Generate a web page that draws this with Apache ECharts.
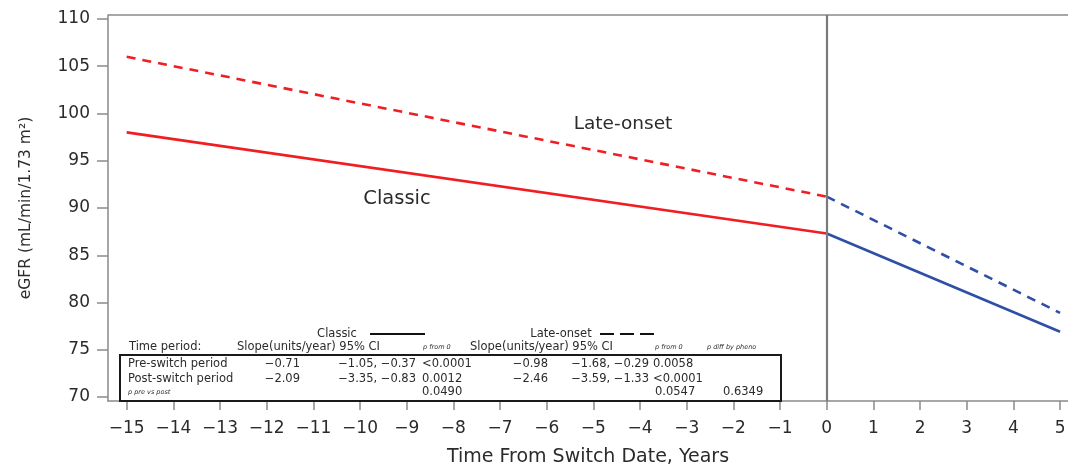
<!DOCTYPE html>
<html>
<head>
<meta charset="utf-8">
<title>eGFR slope before and after switch</title>
<script src="https://cdn.jsdelivr.net/npm/echarts@6/dist/echarts.min.js"></script>
<style>
  html, body { margin: 0; padding: 0; background: #fff; }
  #chart { width: 1068px; height: 465px; }
</style>
</head>
<body>
<div id="chart"></div>
<script>
(function () {
  'use strict';

  // ---- data ----
  var xTicks = [-15, -14, -13, -12, -11, -10, -9, -8, -7, -6, -5, -4, -3, -2, -1, 0, 1, 2, 3, 4, 5];
  var yTicks = [70, 75, 80, 85, 90, 95, 100, 105, 110];

  // fitted lines [years, eGFR]
  var classicPre  = [[-15, 98.0], [0, 87.3]];
  var classicPost = [[0, 87.3], [5, 76.9]];
  var latePre     = [[-15, 106.0], [0, 91.2]];
  var latePost    = [[0, 91.2], [5, 78.9]];

  // slope table
  var rowNames     = ['Pre-switch period', 'Post-switch period'];
  var classicSlope = ['\u22120.71', '\u22122.09'];
  var classicCI    = ['\u22121.05, \u22120.37', '\u22123.35, \u22120.83'];
  var classicP     = ['<0.0001', '0.0012'];
  var lateSlope    = ['\u22120.98', '\u22122.46'];
  var lateCI       = ['\u22121.68, \u22120.29', '\u22123.59, \u22121.33'];
  var lateP        = ['0.0058', '<0.0001'];
  var pPrePost     = ['0.0490', '0.0547'];
  var pPheno       = '0.6349';

  // ---- style ----
  var FONT = '"DejaVu Sans", Verdana, sans-serif';
  var RED = '#f01e23';
  var BLUE = '#2f4fa6';
  var AXIS = '#8a8a8a';
  var TXT = '#2b2b2b';
  var TS = 11.5; // table font size

  function line(name, data, color, dashed) {
    return {
      name: name, type: 'line', data: data,
      symbol: 'none', silent: true, z: 3,
      lineStyle: { color: color, width: 2.6, type: dashed ? [9, 7] : 'solid' }
    };
  }

  function txt(text, x, y, size, align, italic) {
    return {
      type: 'text', silent: true, z: 10,
      style: {
        text: text, x: x, y: y, fill: TXT,
        font: (italic ? 'italic ' : '') + size + 'px ' + FONT,
        textAlign: align || 'left', textVerticalAlign: 'middle'
      }
    };
  }

  // ---- slope table (pixel layout) ----
  var g = [];
  g.push(txt('Classic', 337, 334, TS, 'center'));
  g.push({ type: 'line', silent: true, z: 10, shape: { x1: 370, y1: 334, x2: 425, y2: 334 }, style: { stroke: '#111', lineWidth: 2 } });
  g.push(txt('Late-onset', 561, 334, TS, 'center'));
  g.push({ type: 'line', silent: true, z: 10, shape: { x1: 600, y1: 334, x2: 656, y2: 334 }, style: { stroke: '#111', lineWidth: 2, lineDash: [14, 6] } });

  g.push(txt('Time period:', 129, 347, TS, 'left'));
  g.push(txt('Slope(units/year) 95% CI', 237, 347, TS, 'left'));
  g.push(txt('p from 0', 423, 347, 6.5, 'left', true));
  g.push(txt('Slope(units/year) 95% CI', 470, 347, TS, 'left'));
  g.push(txt('p from 0', 655, 347, 6.5, 'left', true));
  g.push(txt('p diff by pheno', 707, 347, 6.5, 'left', true));

  g.push({
    type: 'rect', silent: true, z: 9,
    shape: { x: 120, y: 355, width: 661, height: 46 },
    style: { fill: '#fff', stroke: '#1a1a1a', lineWidth: 2 }
  });

  var rowY = [364, 379];
  for (var i = 0; i < rowNames.length; i++) {
    g.push(txt(rowNames[i], 128, rowY[i], TS, 'left'));
    g.push(txt(classicSlope[i], 300, rowY[i], TS, 'right'));
    g.push(txt(classicCI[i], 416, rowY[i], TS, 'right'));
    g.push(txt(classicP[i], 422, rowY[i], TS, 'left'));
    g.push(txt(lateSlope[i], 548, rowY[i], TS, 'right'));
    g.push(txt(lateCI[i], 649, rowY[i], TS, 'right'));
    g.push(txt(lateP[i], 653, rowY[i], TS, 'left'));
  }
  g.push(txt('p pre vs post', 128, 392, 6.5, 'left', true));
  g.push(txt(pPrePost[0], 422, 392, TS, 'left'));
  g.push(txt(pPrePost[1], 655, 392, TS, 'left'));
  g.push(txt(pPheno, 723, 392, TS, 'left'));

  // curve labels
  g.push(txt('Late-onset', 623, 124, 18.5, 'center'));
  g.push(txt('Classic', 397, 199, 19.5, 'center'));

  // top border of the plot frame
  g.push({ type: 'line', silent: true, z: 2, shape: { x1: 108, y1: 15, x2: 1068, y2: 15 }, style: { stroke: AXIS, lineWidth: 1.5 } });

  var chart = echarts.init(document.getElementById('chart'), null, { renderer: 'canvas' });

  chart.setOption({
    backgroundColor: '#fff',
    animation: false,
    textStyle: { fontFamily: FONT },
    grid: { left: 108, right: 0, top: 15, bottom: 64, containLabel: false, outerBoundsMode: 'none' },
    xAxis: {
      type: 'value', min: -15.4, max: 5.17,
      name: 'Time From Switch Date, Years',
      nameLocation: 'middle', nameGap: 47,
      nameTextStyle: { color: TXT, fontSize: 19, fontFamily: FONT },
      axisLine: { show: true, onZero: false, lineStyle: { color: AXIS, width: 1.5 } },
      axisTick: { show: true, length: 9, lineStyle: { color: AXIS, width: 1.5 }, customValues: xTicks },
      axisLabel: {
        color: TXT, fontSize: 17, margin: 19, fontFamily: FONT,
        customValues: xTicks,
        formatter: function (v) { return v < 0 ? '\u2212' + Math.abs(v) : String(v); }
      },
      splitLine: { show: false }
    },
    yAxis: {
      type: 'value', min: 69.58, max: 110.42,
      name: 'eGFR (mL/min/1.73 m\u00b2)',
      nameLocation: 'middle', nameGap: 74, nameRotate: 90,
      nameTextStyle: { color: TXT, fontSize: 15.5, fontFamily: FONT },
      axisLine: { show: true, onZero: false, lineStyle: { color: AXIS, width: 1.5 } },
      axisTick: { show: true, length: 11, lineStyle: { color: AXIS, width: 1.5 }, customValues: yTicks },
      axisLabel: { color: TXT, fontSize: 17, margin: 18, fontFamily: FONT, customValues: yTicks },
      splitLine: { show: false }
    },
    series: [
      line('Classic pre', classicPre, RED, false),
      line('Classic post', classicPost, BLUE, false),
      line('Late-onset pre', latePre, RED, true),
      line('Late-onset post', latePost, BLUE, true),
      {
        name: 'switch', type: 'line', data: [], silent: true,
        markLine: {
          symbol: 'none', silent: true, label: { show: false },
          lineStyle: { color: '#7a7a7a', width: 2.2, type: 'solid' },
          data: [{ xAxis: 0 }]
        }
      }
    ],
    graphic: g
  });

  window.addEventListener('resize', function () { chart.resize(); });
})();
</script>
</body>
</html>
